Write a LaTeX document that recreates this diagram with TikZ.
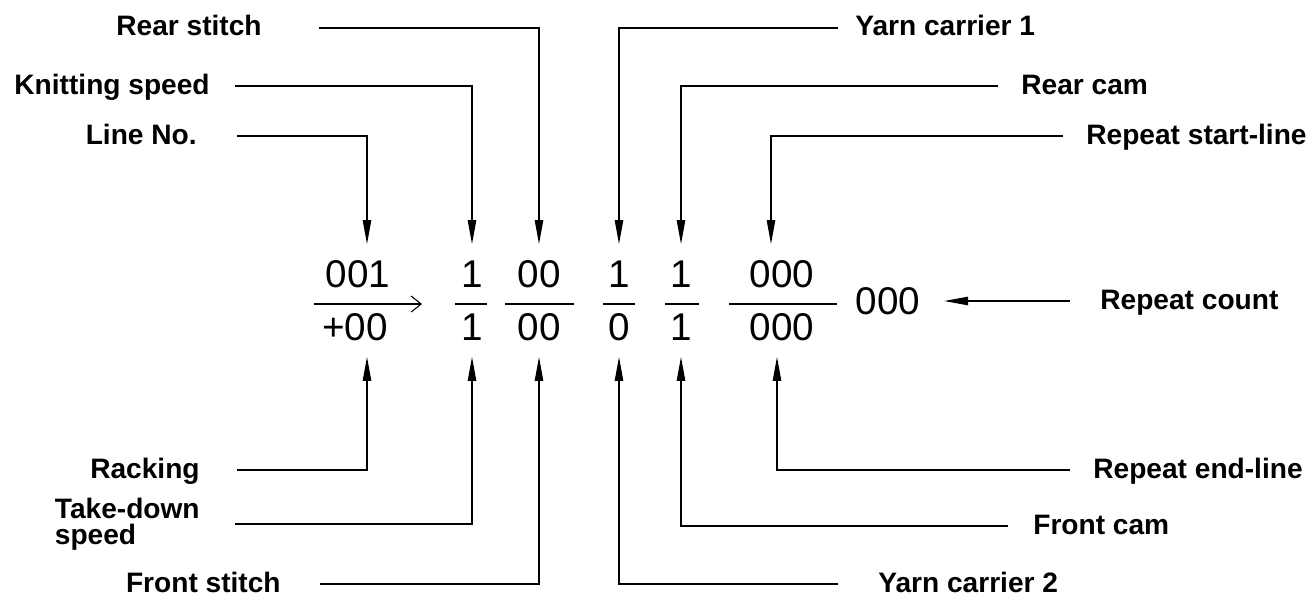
\documentclass[tikz,border=0pt]{standalone}
\usepackage{fontspec}
\setmainfont{Liberation Sans}
\newfontfamily\digitfont{Liberation Sans}
\usetikzlibrary{arrows.meta}

\tikzset{
  lbl/.style={font=\fontsize{16}{16.5}\selectfont\bfseries, inner sep=0pt, text height=1.1em, text depth=0.19em},
  digits/.style={font=\fontsize{22}{26}\selectfont\digitfont, inner sep=0pt, minimum height=0.6cm, outer sep=0.3cm},
  lead/.style={line width=0.6pt, -{Triangle[length=0.48cm,width=0.17cm]}},
  bar/.style={line width=0.6pt}
}

\begin{document}
\begin{tikzpicture}[x=0.02cm, y=-0.02cm]
\useasboundingbox (0,0) rectangle (1315,596);
% Code line: fields
\node[digits] (n1) at (358,274) {001};
\node[digits] (d1) at (355,327) {+00};
\node[digits] (n2) at (472,274) {1};
\node[digits] (d2) at (472,327) {1};
\node[digits] (n3) at (539,274) {00};
\node[digits] (d3) at (539,327) {00};
\node[digits] (n4) at (619,274) {1};
\node[digits] (d4) at (619,327) {0};
\node[digits] (n5) at (681,274) {1};
\node[digits] (d5) at (681,327) {1};
\node[digits] (n6) at (782,274) {000};
\node[digits] (d6) at (782,327) {000};
\node[digits, outer xsep=0.48cm] (cnt) at (888,301) {000};
% Fraction bars
\draw[bar, -{Straight Barb[length=0.2cm,width=0.32cm]}] (314,304) -- (422,304);
\draw[bar] (455,304) -- (487,304);
\draw[bar] (505,304) -- (574,304);
\draw[bar] (603,304) -- (635,304);
\draw[bar] (665,304) -- (699,304);
\draw[bar] (729,304) -- (837,304);
% Labels, upper row
\node[lbl, anchor=east] (rearst) at (262,28) {Rear stitch};
\node[lbl, anchor=east] (knitsp) at (210,86) {Knitting speed};
\node[lbl, anchor=east] (lineno) at (197,136) {Line No.};
\node[lbl, anchor=west] (carr1) at (855,28) {Yarn carrier 1};
\node[lbl, anchor=west] (rearcam) at (1021,86) {Rear cam};
\node[lbl, anchor=west] (repst) at (1086,136) {Repeat start-line};
\node[lbl, anchor=west] (repcnt) at (1100,301) {Repeat count};
% Labels, lower row
\node[lbl, anchor=east] (rack) at (200,470) {Racking};
\node[lbl, anchor=east, align=left, font=\fontsize{16}{15}\selectfont\bfseries,
      text height={}, text depth={}] (takedn) at (200,524) {Take-down\\speed};
\node[lbl, anchor=east] (frontst) at (281,584) {Front stitch};
\node[lbl, anchor=west] (carr2) at (878,584) {Yarn carrier 2};
\node[lbl, anchor=west] (frontcam) at (1033,526) {Front cam};
\node[lbl, anchor=west] (repend) at (1093,470) {Repeat end-line};
% Leaders to numerators
\draw[lead, shorten <=0.8cm] (lineno.east) -| ([xshift=0.18cm]n1.north);
\draw[lead, shorten <=0.5cm] (knitsp.east) -| (n2.north);
\draw[lead, shorten <=1.14cm] (rearst.east) -| (n3.north);
\draw[lead, shorten <=0.34cm] (carr1.west) -| (n4.north);
\draw[lead, shorten <=0.46cm] (rearcam.west) -| (n5.north);
\draw[lead, shorten <=0.46cm] (repst.west) -| ([xshift=-0.22cm]n6.north);
% Leaders to denominators
\draw[lead, shorten <=0.74cm] (rack.east) -| ([xshift=0.24cm]d1.south);
\draw[lead, shorten <=0.7cm] (takedn.east) -| (d2.south);
\draw[lead, shorten <=0.78cm] (frontst.east) -| (d3.south);
\draw[lead, shorten <=0.8cm] (carr2.west) -| (d4.south);
\draw[lead, shorten <=0.5cm] (frontcam.west) -| (d5.south);
\draw[lead, shorten <=0.46cm] (repend.west) -| ([xshift=-0.1cm]d6.south);
\draw[lead, shorten <=0.6cm] (repcnt.west) -- (cnt.east);
\end{tikzpicture}
\end{document}
